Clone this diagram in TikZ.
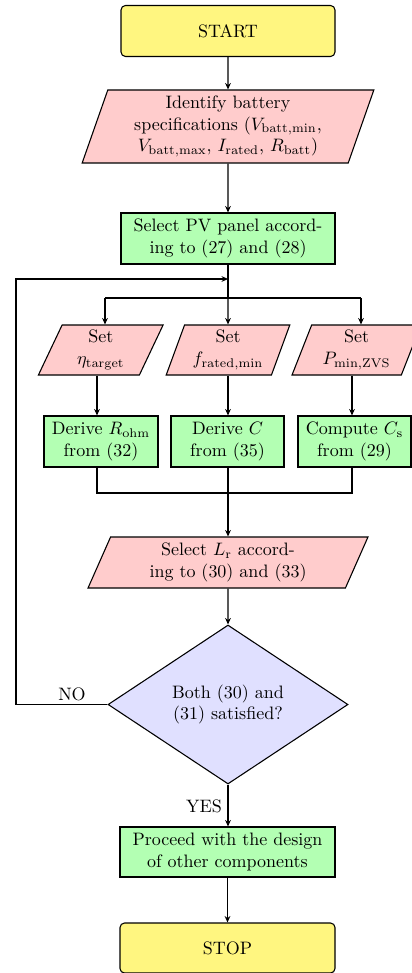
\documentclass[tikz,border=0pt]{standalone}
\usetikzlibrary{shapes.geometric,arrows.meta,calc}
% one drawing unit
\newcommand\pxlen{0.5556pt}
\definecolor{termfill}{RGB}{255,246,128}
\definecolor{iofill}{RGB}{255,204,204}
\definecolor{procfill}{RGB}{179,255,179}
\definecolor{decfill}{RGB}{224,224,255}
\tikzset{
  every path/.style={line width=0.6pt},
  term/.style={draw, rounded corners=2.5pt, fill=termfill,
    minimum width=214*\pxlen, minimum height=51*\pxlen},
  proc/.style={draw, fill=procfill, align=center, inner sep=1pt},
  io/.style={trapezium, trapezium left angle=70, trapezium right angle=110,
    trapezium stretches=true, draw, fill=iofill, align=center, inner sep=1pt},
  dec/.style={diamond, draw, fill=decfill, align=center, inner sep=0pt},
  arr/.style={-{Stealth[length=3.6pt,width=3.2pt]}},
}
\begin{document}
\begin{tikzpicture}[x=0.5556pt, y=-0.5556pt]
\useasboundingbox (0,0) rectangle (412,973);

% main column
\node[term] (start) at (228,31) {START};
\node[io, trapezium left angle=72.5, trapezium right angle=107.5,
  minimum width=292*\pxlen, minimum height=73*\pxlen] (ident) at (228,126.5)
  {Identify battery\\specifications ($V_{\mathrm{batt,min}}$,\\$V_{\mathrm{batt,max}}$, $I_{\mathrm{rated}}$, $R_{\mathrm{batt}}$)};
\node[proc, minimum width=214*\pxlen, minimum height=51*\pxlen] (pv) at (228,238.5)
  {Select PV panel accord-\\ing to (27) and (28)};

% three parallel branches
\node[io, minimum width=125*\pxlen, minimum height=50*\pxlen] (p1) at (100.75,350)
  {Set\\$\eta_{\mathrm{target}}$};
\node[io, minimum width=124*\pxlen, minimum height=50*\pxlen] (p2) at (228,350)
  {Set\\$f_{\mathrm{rated,min}}$};
\node[io, minimum width=129*\pxlen, minimum height=50*\pxlen] (p3) at (356.5,350)
  {Set\\$P_{\mathrm{min,ZVS}}$};

\node[proc, minimum width=114*\pxlen, minimum height=51*\pxlen] (g1) at (101,441.5)
  {Derive $R_{\mathrm{ohm}}$\\from (32)};
\node[proc, minimum width=113*\pxlen, minimum height=51*\pxlen] (g2) at (227.5,441.5)
  {Derive $C$\\from (35)};
\node[proc, minimum width=113*\pxlen, minimum height=51*\pxlen] (g3) at (354.5,441.5)
  {Compute $C_{\mathrm{s}}$\\from (29)};

\node[io, minimum width=280*\pxlen, minimum height=51*\pxlen] (lr) at (228,562.5)
  {Select $L_{\mathrm{r}}$ accord-\\ing to (30) and (33)};
\node[dec, minimum width=240*\pxlen, minimum height=159*\pxlen] (dec) at (228,704.5)
  {Both (30) and\\(31) satisfied?};
\node[proc, minimum width=215*\pxlen, minimum height=50*\pxlen] (proceed) at (227.5,852)
  {Proceed with the design\\of other components};
\node[term, minimum width=215*\pxlen, minimum height=50*\pxlen] (stop) at (227.5,948) {STOP};

\node (no) at (72,694) {NO};
\node (yes) at (204,806) {YES};

% junction points
\coordinate (br) at (228,298);
\coordinate (loopin) at (228,279);
\coordinate (ca) at (105,298);
\coordinate (cc) at (361,298);
\coordinate (da) at (97,493);
\coordinate (dc) at (352,493);
\coordinate (lx) at (16,279);

% connectors
\draw[arr] (start) -- (ident);
\draw[arr] (ident) -- (pv);
\draw (pv.south) -- (br);
\draw (ca) -- (cc);
\draw[arr] (ca) -- (ca |- p1.north);
\draw[arr] (br) -- (p2.north);
\draw[arr] (cc) -- (cc |- p3.north);
\draw[arr] (da |- p1.south) -- (da |- g1.north);
\draw[arr] (p2.south) -- (p2.south |- g2.north);
\draw[arr] (dc |- p3.south) -- (dc |- g3.north);
\draw (da |- g1.south) -- (da) -- (dc) -- (dc |- g3.south);
\draw[arr] (lr.north |- g2.south) -- (lr.north);
\draw[arr] (lr) -- (dec);
\draw[arr] (dec.west) -- (dec.west -| lx) -- (lx) -- (loopin);
\draw[arr] (dec.south) -- (dec.south |- proceed.north);
\draw[arr] (proceed.south -| stop.north) -- (stop.north);
\end{tikzpicture}
\end{document}
